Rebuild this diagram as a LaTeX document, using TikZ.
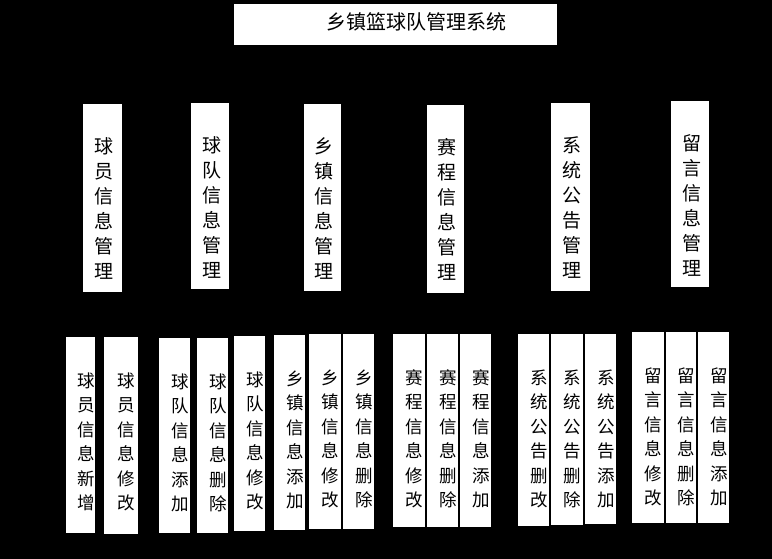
\documentclass[tikz,border=0pt]{standalone}
\usepackage{fontspec}
\newfontfamily\cjk{Noto Sans CJK SC}
\usetikzlibrary{fit,backgrounds}
\tikzset{
  box/.style={draw=black,line width=0.5pt,fill=white,inner sep=0pt},
  ttxt/.style={inner sep=0pt,font=\cjk\fontsize{20}{24}\selectfont,text=black},
  ltwo/.style={inner sep=0pt,align=center,font=\cjk\fontsize{19}{25}\selectfont,text=black},
  lthree/.style={inner sep=0pt,align=center,font=\cjk\fontsize{17.5}{24.5}\selectfont,text=black},
  conn/.style={draw=black,line width=0.6pt}
}
\newcommand\lvtwo[6]{%
  \node[box,fit={(#2,#3) (#4,#5)}] (#1) {};
  \node[ltwo] (#1t) at ([xshift=2pt,yshift=-106pt]#1.north) {#6};}
\newcommand\lvthree[6]{%
  \node[box,fit={(#2,#3) (#4,#5)}] (#1) {};
  \node[lthree] (#1t) at ([xshift=6pt,yshift=-106pt]#1.north) {#6};}
\begin{document}
\begin{tikzpicture}[x=1pt,y=-1pt]
\useasboundingbox (0,0) rectangle (772,559);
% title
\node[box,fit={(233,3) (557,45)}] (t) {};
\node[ttxt] (tt) at (416.5,22) {乡镇篮球队管理系统};
% level 2
\lvtwo{a1}{82}{103}{122}{292}{球\\员\\信\\息\\管\\理}
\lvtwo{a2}{190}{102}{229}{289}{球\\队\\信\\息\\管\\理}
\lvtwo{a3}{303}{103}{341}{291}{乡\\镇\\信\\息\\管\\理}
\lvtwo{a4}{426}{104}{464}{293}{赛\\程\\信\\息\\管\\理}
\lvtwo{a5}{550}{102}{590}{291}{系\\统\\公\\告\\管\\理}
\lvtwo{a6}{670}{100}{709}{287}{留\\言\\信\\息\\管\\理}
% level 3
\lvthree{b1}{65}{336}{95}{533}{球\\员\\信\\息\\新\\增}
\lvthree{b2}{103}{336}{138}{534}{球\\员\\信\\息\\修\\改}
\lvthree{b3}{158}{337}{190}{533}{球\\队\\信\\息\\添\\加}
\lvthree{b4}{196}{337}{228}{533}{球\\队\\信\\息\\删\\除}
\lvthree{b5}{233}{335}{265}{531}{球\\队\\信\\息\\修\\改}
\lvthree{b6}{273}{334}{305}{530}{乡\\镇\\信\\息\\添\\加}
\lvthree{b7}{308}{333}{341}{529}{乡\\镇\\信\\息\\修\\改}
\lvthree{b8}{342}{333}{374}{529}{乡\\镇\\信\\息\\删\\除}
\lvthree{b9}{392}{333}{425}{527}{赛\\程\\信\\息\\修\\改}
\lvthree{b10}{426}{333}{458}{527}{赛\\程\\信\\息\\删\\除}
\lvthree{b11}{459}{333}{491}{527}{赛\\程\\信\\息\\添\\加}
\lvthree{b12}{517}{333}{549}{526}{系\\统\\公\\告\\删\\改}
\lvthree{b13}{550}{333}{583}{525}{系\\统\\公\\告\\删\\除}
\lvthree{b14}{584}{333}{616}{524}{系\\统\\公\\告\\添\\加}
\lvthree{b15}{631}{331}{664}{523}{留\\言\\信\\息\\修\\改}
\lvthree{b16}{665}{331}{696}{523}{留\\言\\信\\息\\删\\除}
\lvthree{b17}{697}{331}{729}{523}{留\\言\\信\\息\\添\\加}
% background and connectors (black on black)
\begin{scope}[on background layer]
  \fill[black] (0,0) rectangle (772,559);
  \foreach \c in {a1,a2,a3,a4,a5,a6}
    \draw[conn] (t.south) -- ([yshift=-28pt]t.south) -| (\c.north);
  \foreach \p/\c in {a1/b1,a1/b2,a2/b3,a2/b4,a2/b5,a3/b6,a3/b7,a3/b8,
                     a4/b9,a4/b10,a4/b11,a5/b12,a5/b13,a5/b14,a6/b15,a6/b16,a6/b17}
    \draw[conn] (\p.south) -- ([yshift=-20pt]\p.south) -| (\c.north);
\end{scope}
\end{tikzpicture}
\end{document}
